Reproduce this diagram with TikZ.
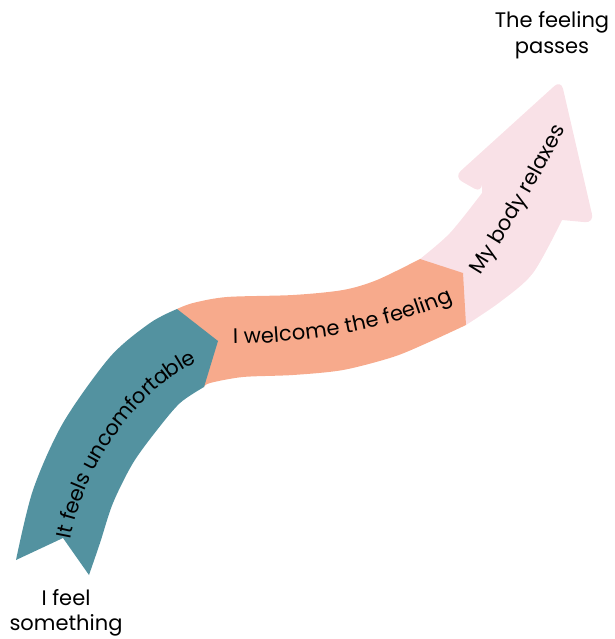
\documentclass[tikz,border=0pt]{standalone}
\usepackage{fontspec}
\setmainfont{Poppins}
\usetikzlibrary{decorations.text}
\definecolor{uncomfy}{RGB}{83,146,160}
\definecolor{welcome}{RGB}{247,170,140}
\definecolor{relax}{RGB}{249,225,231}
\newcommand{\stagefont}{\fontsize{21}{25.5}\selectfont}
\tikzset{
  stagetext/.style={decorate,decoration={text along path,text align=center,raise=-6pt,text={|\stagefont|#1}}},
  endlabel/.style={align=center,font=\stagefont,inner sep=0pt}
}
\begin{document}
\begin{tikzpicture}[x=1pt,y=-1pt]
        \useasboundingbox (0,0) rectangle (614,639);
        %% head: my body relaxes
        \fill[relax] (420,259) -- (466,325) -- plot[smooth] coordinates {(466,325) (500,302) (533,273) (562,220)}
            [rounded corners=9pt] -- (594,223) -- (561,80) -- (454,177) -- (482,193)
            [sharp corners] -- plot[smooth] coordinates {(482,193) (450,233) (420,259)} -- cycle;
        %% middle: I welcome the feeling
        \fill[welcome] plot[smooth] coordinates {(177,309) (193,303) (227,297) (293,295) (343,290) (377,280) (420,259)}
            -- (463,273) -- (466,325)
            -- plot[smooth] coordinates {(466,325) (427,343) (393,357) (343,370) (293,375) (243,377) (210,383) (204,387)} -- cycle;
        %% tail: it feels uncomfortable
        \fill[uncomfy] (16,560) -- (63,538) -- (89,575)
            -- plot[smooth] coordinates {(89,575) (100,543) (113,503) (133,463) (157,430) (180,403) (204,387)}
            -- (218,341) -- plot[smooth] coordinates {(177,309) (150,323) (110,357) (63,423) (33,490) (16,560)} -- cycle;
        %% texts along the band
        \path[stagetext={It feels uncomfortable}] (62,555) .. controls (70,475) and (132,378) .. (210,350);
        \path[stagetext={I welcome the feeling}] (225,338) .. controls (300,338) and (390,325) .. (458,292);
        \path[stagetext={My body relaxes}] (470,282) .. controls (495,240) and (535,180) .. (564,116);
        %% start and end
        \node[endlabel] (start) at (66,613) {I feel\\something};
        \node[endlabel] (finish) at (552,35) {The feeling\\passes};
\end{tikzpicture}
\end{document}
